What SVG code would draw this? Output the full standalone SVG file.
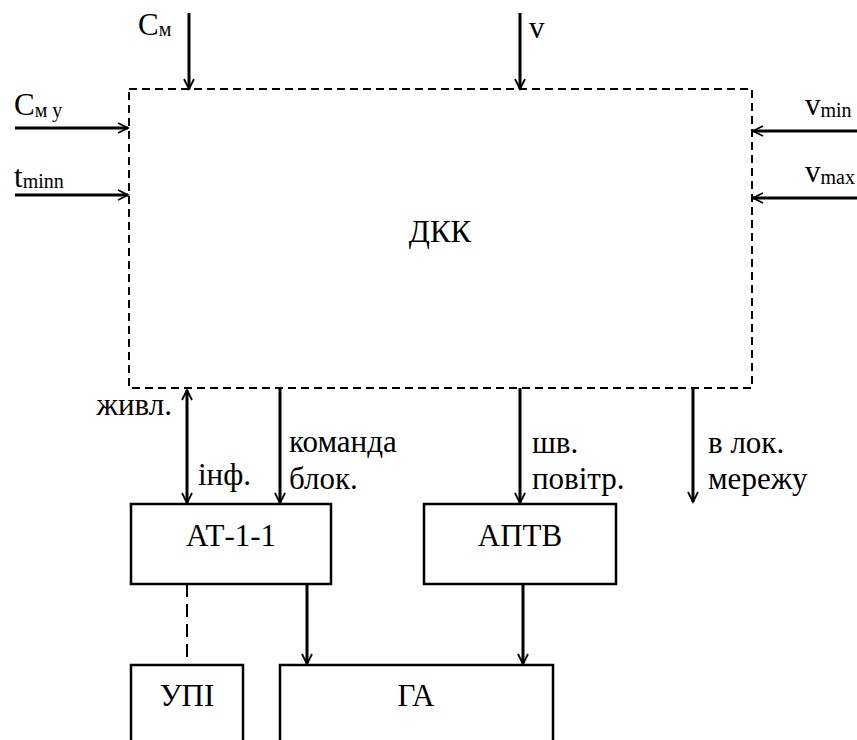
<svg xmlns="http://www.w3.org/2000/svg" width="857" height="740" viewBox="0 0 857 740">
<style>
text{font-family:'Liberation Serif','Times New Roman',Tinos,'DejaVu Serif',serif;fill:#000}
.lbl{font-size:31px}
.sub{font-size:20px}
.box{fill:#fff;stroke:#000;stroke-width:2.5}
.dash{fill:none;stroke:#000;stroke-width:2;stroke-dasharray:8 5}
.arr{fill:none;stroke:#000;stroke-width:3;marker-end:url(#ah)}
</style>
<defs>
<marker id="ah" markerUnits="userSpaceOnUse" markerWidth="14" markerHeight="14" refX="11" refY="6" orient="auto-start-reverse">
<path d="M1,1 L11,6 L1,11" fill="none" stroke="#000" stroke-width="1.8"/>
</marker>
</defs>
<g id="connectors">
<line class="arr" x1="189" y1="13" x2="189" y2="89"/>
<line class="arr" x1="520" y1="13" x2="520" y2="89"/>
<line class="arr" x1="15" y1="128" x2="128" y2="128"/>
<line class="arr" x1="15" y1="195" x2="128" y2="195"/>
<line class="arr" x1="857" y1="131" x2="753" y2="131"/>
<line class="arr" x1="857" y1="198" x2="753" y2="198"/>
<line class="arr" x1="187" y1="390" x2="187" y2="503" style="marker-start:url(#ah)"/>
<line class="arr" x1="280" y1="388" x2="280" y2="503"/>
<line class="arr" x1="520" y1="388" x2="520" y2="503"/>
<line class="arr" x1="693" y1="388" x2="693" y2="502"/>
<line class="arr" x1="307" y1="584" x2="307" y2="664"/>
<line class="arr" x1="523" y1="584" x2="523" y2="664"/>
<line x1="187" y1="584" x2="187" y2="665" stroke="#000" stroke-width="2" stroke-dasharray="13 7"/>
</g>
<g id="dkk">
<rect class="dash" x="129" y="89" width="623" height="299"/>
<text class="lbl" x="440" y="242" text-anchor="middle">ДКК</text>
</g>
<g id="at">
<rect class="box" x="131" y="504" width="200" height="80"/>
<text class="lbl" x="231" y="546" text-anchor="middle">АТ-1-1</text>
</g>
<g id="aptv">
<rect class="box" x="424" y="504" width="192" height="80"/>
<text class="lbl" x="520" y="546" text-anchor="middle">АПТВ</text>
</g>
<g id="upi">
<rect class="box" x="131" y="665" width="112" height="90"/>
<text class="lbl" x="187" y="706" text-anchor="middle">УПІ</text>
</g>
<g id="ga">
<rect class="box" x="280" y="665" width="273" height="90"/>
<text class="lbl" x="416" y="706" text-anchor="middle">ГА</text>
</g>
<g id="labels">
<text class="lbl" x="138" y="35">C<tspan class="sub" dy="1">м</tspan></text>
<text class="lbl" x="529" y="38">v</text>
<text class="lbl" x="14" y="115">C<tspan class="sub" dy="2">м у</tspan></text>
<text class="lbl" x="14" y="187">t<tspan class="sub" dy="1">minn</tspan></text>
<text class="lbl" x="805" y="115">v<tspan class="sub" dy="2">min</tspan></text>
<text class="lbl" x="805" y="182">v<tspan class="sub" dy="2">max</tspan></text>
<text class="lbl" x="172" y="415" text-anchor="end">живл.</text>
<text class="lbl" x="198" y="485">інф.</text>
<text class="lbl" x="289" y="452">команда</text>
<text class="lbl" x="289" y="489">блок.</text>
<text class="lbl" x="532" y="453">шв.</text>
<text class="lbl" x="532" y="489">повітр.</text>
<text class="lbl" x="708" y="453">в лок.</text>
<text class="lbl" x="708" y="489">мережу</text>
</g>
</svg>
